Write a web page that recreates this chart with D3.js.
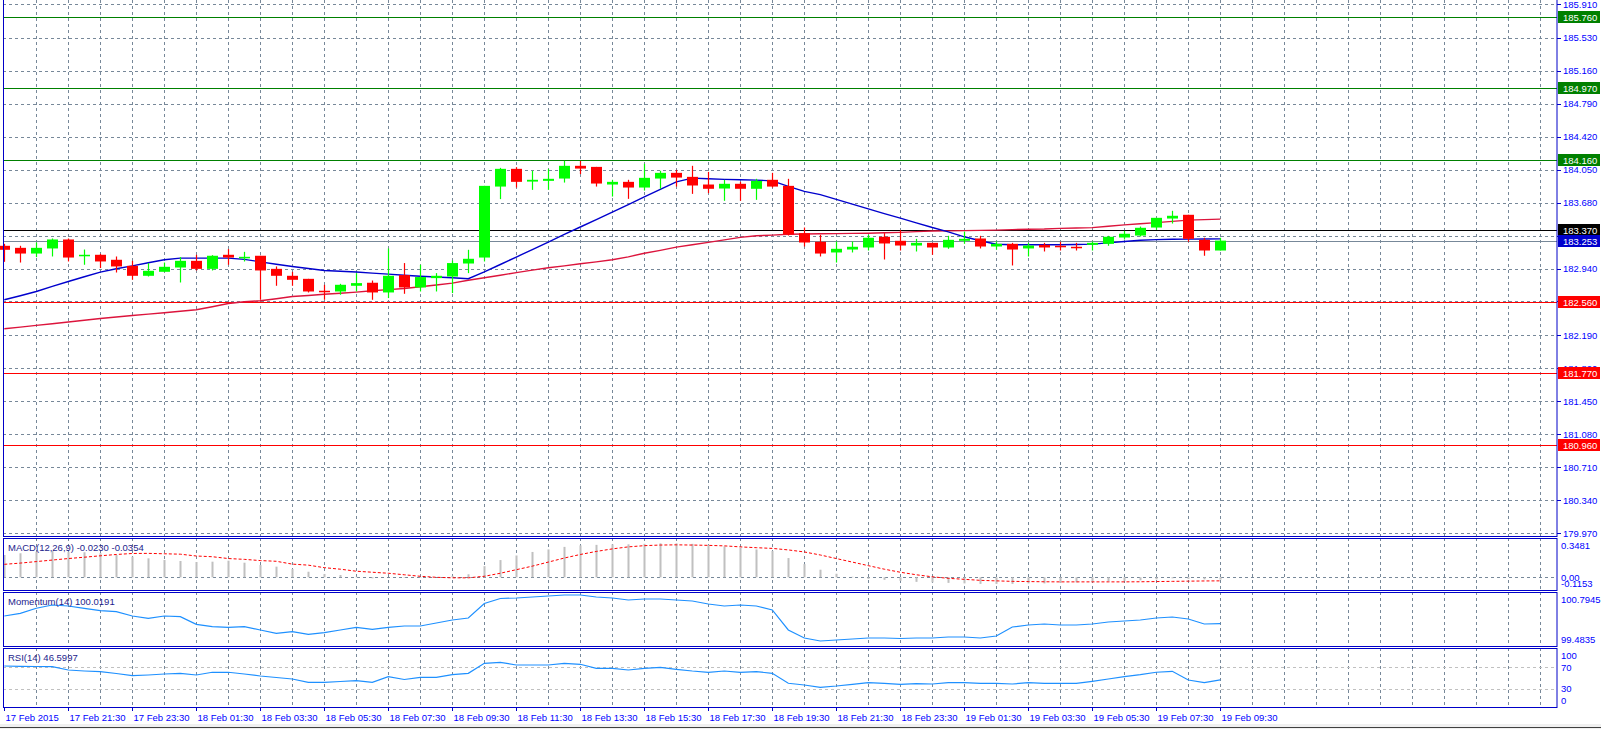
<!DOCTYPE html>
<html>
<head>
<meta charset="utf-8">
<script src="https://cdn.jsdelivr.net/npm/d3@7"></script>
<style>
  body { margin: 0; background: #fff; }
  text { font-family: "Liberation Sans", Arial, sans-serif; }
</style>
</head>
<body>
<svg id="chart"></svg>
<script>
// 30-minute bars, 17 Feb 19:30 -> 19 Feb 09:30
let opens = [183.195,183.172,183.108,183.165,183.266,183.079,183.094,183.038,182.970,182.858,
  182.903,182.951,183.026,182.936,183.094,183.057,183.083,182.936,182.858,182.824,
  182.690,182.682,182.746,182.780,182.671,182.866,182.727,182.832,182.850,182.996,
  183.063,183.860,184.059,183.916,183.924,183.950,184.093,184.081,183.883,183.913,
  183.849,183.950,184.014,183.969,183.883,183.838,183.891,183.835,183.936,183.868,
  183.337,183.240,183.120,183.153,183.176,183.296,183.251,183.198,183.228,183.176,
  183.251,183.277,183.187,183.217,183.165,183.206,183.195,183.184,183.206,183.217,
  183.288,183.310,183.400,183.501,183.543,183.262,183.142];
let highs = [183.217,183.195,183.232,183.277,183.277,183.153,183.105,183.075,183.026,183.001,
  183.007,183.068,183.094,183.090,183.158,183.127,183.083,182.963,182.903,182.824,
  182.757,182.768,182.888,182.805,183.165,183.001,182.982,182.888,183.030,183.150,
  183.868,184.070,184.078,184.037,184.059,184.149,184.149,184.081,183.936,183.936,
  184.115,184.037,184.048,184.093,184.025,183.936,183.913,183.947,184.014,183.947,
  183.400,183.318,183.243,183.243,183.318,183.337,183.371,183.273,183.228,183.307,
  183.355,183.307,183.243,183.228,183.228,183.228,183.240,183.228,183.243,183.307,
  183.363,183.411,183.509,183.588,183.543,183.285,183.285];
let lows = [183.015,183.007,183.068,183.075,183.019,182.982,182.945,182.895,182.813,182.850,
  182.903,182.783,182.918,182.918,182.982,183.019,182.589,182.746,182.746,182.671,
  182.589,182.645,182.682,182.589,182.608,182.656,182.682,182.682,182.664,182.888,
  183.019,183.719,183.849,183.823,183.823,183.905,184.000,183.860,183.748,183.722,
  183.815,183.835,183.860,183.778,183.786,183.700,183.700,183.711,183.849,183.310,
  183.187,183.075,183.007,183.120,183.142,183.041,183.142,183.131,183.094,183.161,
  183.217,183.165,183.150,182.974,183.075,183.131,183.142,183.142,183.142,183.195,
  183.266,183.299,183.374,183.445,183.240,183.083,183.142];
let closes = [183.150,183.108,183.172,183.266,183.063,183.094,183.019,182.963,182.858,182.914,
  182.959,183.026,182.936,183.083,183.063,183.071,182.918,182.858,182.813,182.682,
  182.679,182.757,182.776,182.671,182.858,182.727,182.844,182.858,183.001,183.049,
  183.868,184.059,183.913,183.936,183.947,184.093,184.062,183.894,183.913,183.849,
  183.958,184.014,183.961,183.872,183.835,183.891,183.835,183.924,183.860,183.322,
  183.232,183.108,183.161,183.184,183.285,183.221,183.198,183.228,183.176,183.262,
  183.273,183.187,183.217,183.153,183.198,183.176,183.187,183.176,183.228,183.296,
  183.330,183.397,183.509,183.532,183.273,183.142,183.253];

// moving averages on the price window
let maBlue = [182.589,182.634,182.682,182.740,182.794,182.847,182.900,182.937,182.970,183.004,
  183.038,183.057,183.057,183.057,183.057,183.043,183.015,182.987,182.963,182.940,
  182.918,182.909,182.900,182.888,182.877,182.864,182.853,182.844,182.836,182.825,
  182.901,182.985,183.069,183.153,183.237,183.322,183.406,183.490,183.574,183.658,
  183.743,183.828,183.912,183.955,183.947,183.941,183.936,183.932,183.924,183.863,
  183.806,183.769,183.717,183.663,183.610,183.557,183.506,183.453,183.400,183.352,
  183.296,183.251,183.212,183.206,183.206,183.206,183.206,183.209,183.214,183.228,
  183.243,183.257,183.264,183.268,183.270,183.271,183.273];
let maRed = [182.263,182.282,182.301,182.319,182.339,182.359,182.379,182.396,182.413,182.428,
  182.443,182.460,182.477,182.510,182.547,182.566,182.578,182.600,182.626,182.637,
  182.651,182.662,182.675,182.690,182.703,182.716,182.735,182.754,182.776,182.808,
  182.836,182.864,182.894,182.922,182.948,182.970,182.993,183.015,183.038,183.071,
  183.111,183.144,183.180,183.206,183.234,183.262,183.290,183.307,183.315,183.324,
  183.327,183.330,183.332,183.334,183.336,183.341,183.346,183.354,183.361,183.363,
  183.365,183.368,183.371,183.377,183.380,183.383,183.390,183.395,183.399,183.414,
  183.430,183.442,183.455,183.469,183.483,183.489,183.494];

// MACD(12,26,9): histogram + signal
let macdHist = [0.220,0.237,0.252,0.259,0.252,0.247,0.237,0.220,0.203,0.187,
  0.171,0.161,0.151,0.154,0.164,0.144,0.121,0.105,0.082,0.055,
  0.033,0.023,0.006,-0.010,0.000,-0.005,-0.005,0.000,0.015,0.030,
  0.110,0.170,0.215,0.250,0.275,0.300,0.315,0.320,0.325,0.325,
  0.330,0.335,0.335,0.330,0.320,0.305,0.290,0.275,0.260,0.190,
  0.130,0.075,0.035,0.005,-0.015,-0.025,-0.035,-0.045,-0.050,-0.055,
  -0.060,-0.065,-0.065,-0.065,-0.060,-0.060,-0.055,-0.050,-0.045,-0.040,
  -0.035,-0.030,-0.020,-0.010,-0.015,-0.020,-0.023];
let macdSignal = [0.128,0.140,0.155,0.170,0.185,0.198,0.212,0.225,0.235,0.236,
  0.232,0.228,0.210,0.203,0.185,0.177,0.165,0.158,0.130,0.120,
  0.095,0.080,0.060,0.050,0.040,0.025,0.010,0.000,-0.005,-0.005,
  0.010,0.040,0.075,0.110,0.150,0.190,0.225,0.255,0.280,0.300,
  0.312,0.318,0.320,0.318,0.315,0.310,0.300,0.292,0.285,0.270,
  0.250,0.220,0.185,0.150,0.115,0.080,0.050,0.025,0.005,-0.010,
  -0.020,-0.030,-0.035,-0.040,-0.042,-0.044,-0.045,-0.045,-0.045,-0.045,
  -0.045,-0.044,-0.042,-0.040,-0.038,-0.036,-0.035];
let momentum = [100.218,100.288,100.420,100.506,100.480,100.420,100.357,100.330,100.218,100.157,
  100.218,100.199,100.000,99.937,99.921,99.937,99.851,99.764,99.806,99.738,
  99.780,99.851,99.921,99.869,99.921,99.955,99.955,100.034,100.113,100.165,
  100.545,100.677,100.690,100.716,100.742,100.768,100.768,100.716,100.690,100.637,
  100.663,100.663,100.637,100.611,100.532,100.480,100.506,100.480,100.375,99.851,
  99.641,99.562,99.588,99.615,99.641,99.641,99.628,99.641,99.641,99.667,
  99.667,99.641,99.693,99.929,99.982,100.008,99.982,99.982,100.008,100.060,
  100.087,100.113,100.165,100.191,100.139,100.008,100.019];
let rsi = [72.2,71.7,71.3,71.1,64.8,63.0,61.7,58.3,54.3,55.6,
  57.4,58.7,55.6,60.6,60.6,57.4,53.7,50.9,48.1,42.0,
  42.0,43.5,45.0,42.0,52.4,47.2,51.3,51.3,56.1,58.7,
  77.2,79.1,74.1,74.1,74.1,77.2,75.4,68.0,68.0,64.8,
  68.0,69.8,66.1,63.0,60.6,63.0,60.6,61.7,58.7,40.2,
  37.0,32.8,35.2,38.3,41.3,40.2,38.3,39.4,38.9,41.3,
  41.3,40.2,40.2,38.9,41.3,40.2,40.2,40.2,43.9,48.1,
  52.4,56.1,60.6,62.4,46.3,41.3,46.6];

// horizontal levels
let resistance = [185.760, 184.970, 184.160];
let support = [182.560, 181.770, 180.960];
let pivot = 183.370;
let bid = 183.253;

// axis labels
let priceTicks = [185.910,185.530,185.160,184.790,184.420,184.050,183.680,183.310,182.940,
  182.570,182.190,181.820,181.450,181.080,180.710,180.340,179.970];
let timeLabels = ["17 Feb 2015","17 Feb 21:30","17 Feb 23:30","18 Feb 01:30","18 Feb 03:30",
  "18 Feb 05:30","18 Feb 07:30","18 Feb 09:30","18 Feb 11:30","18 Feb 13:30","18 Feb 15:30",
  "18 Feb 17:30","18 Feb 19:30","18 Feb 21:30","18 Feb 23:30","19 Feb 01:30","19 Feb 03:30",
  "19 Feb 05:30","19 Feb 07:30","19 Feb 09:30"];
let macdTicks = [0.3481, 0.00, -0.1153];
let momTicks = [100.7945, 99.4835];
let rsiTicks = [100, 70, 30, 0];
let titles = ["MACD(12,26,9) -0.0230 -0.0354", "Momentum(14) 100.0191", "RSI(14) 46.5997"];

const frameColor = '#0000c8';
const axisText = '#0000ff';
const gridColor = '#778899';

let chart = {
    width: 1601,
    height: 729,
    plotRight: 1557,
    // panel boxes (top, bottom)
    panels: {
        main: [-1, 536],
        macd: [538, 590],
        mom: [592, 646],
        rsi: [648, 707]
    },
    xScale: null,
    yPrice: null,
    yMacd: null,
    yMom: null,
    yRsi: null,

    makeScales: () => {
        chart.xScale = d3.scaleLinear().domain([0, 76]).range([4.3, 1220.3]);
        chart.yPrice = d3.scaleLinear().domain([179.97, 185.91]).range([533, 4]);
        chart.yMacd = d3.scaleLinear().domain([-0.1153, 0.3481]).range([589, 542]);
        chart.yMom = d3.scaleLinear().domain([99.4835, 100.7945]).range([644, 594]);
        chart.yRsi = d3.scaleLinear().domain([0, 100]).range([705, 651]);
    },

    // dashed vertical grid, every hour
    drawGrid: (svg) => {
        let xs = d3.range(2, 97, 2).map(i => Math.round(chart.xScale(i)) + 0.5);
        Object.values(chart.panels).forEach(p => {
            svg.append('g').selectAll('line')
                .data(xs)
                .join('line')
                .attr('x1', d => d).attr('x2', d => d)
                .attr('y1', Math.max(p[0], 0)).attr('y2', p[1])
                .attr('stroke', gridColor)
                .attr('stroke-dasharray', '3,3');
        });
        // price grid
        svg.append('g').selectAll('line')
            .data(priceTicks)
            .join('line')
            .attr('x1', 3).attr('x2', chart.plotRight)
            .attr('y1', d => Math.round(chart.yPrice(d)) + 0.5)
            .attr('y2', d => Math.round(chart.yPrice(d)) + 0.5)
            .attr('stroke', gridColor)
            .attr('stroke-dasharray', '3,3');
    },

    drawLevels: (svg) => {
        let g = svg.append('g');
        let lvl = (v, color) => {
            g.append('line')
                .attr('x1', 3).attr('x2', chart.plotRight)
                .attr('y1', Math.round(chart.yPrice(v)) + 0.5)
                .attr('y2', Math.round(chart.yPrice(v)) + 0.5)
                .attr('stroke', color);
        };
        resistance.forEach(v => lvl(v, '#008000'));
        support.forEach(v => lvl(v, '#ff0000'));
        lvl(pivot, '#000000');
        lvl(bid, '#778899');
    },

    drawMAs: (svg) => {
        let line = arr => d3.line()
            .x((d, i) => chart.xScale(i))
            .y(d => chart.yPrice(d))(arr);
        svg.append('path').attr('d', line(maRed))
            .attr('fill', 'none').attr('stroke', '#dc143c').attr('stroke-width', 1.4);
        svg.append('path').attr('d', line(maBlue))
            .attr('fill', 'none').attr('stroke', '#0000cd').attr('stroke-width', 1.4);
    },

    drawCandles: (svg) => {
        let data = opens.map((o, i) => ({i: i, o: o, h: highs[i], l: lows[i], c: closes[i]}));
        let color = d => d.c >= d.o ? '#00ff00' : '#ff0000';
        let g = svg.append('g');
        g.selectAll('line')
            .data(data)
            .join('line')
            .attr('x1', d => Math.round(chart.xScale(d.i)) + 0.5)
            .attr('x2', d => Math.round(chart.xScale(d.i)) + 0.5)
            .attr('y1', d => chart.yPrice(d.h))
            .attr('y2', d => chart.yPrice(d.l))
            .attr('stroke', color)
            .attr('stroke-width', 1.2);
        g.selectAll('rect')
            .data(data)
            .join('rect')
            .attr('x', d => Math.round(chart.xScale(d.i)) - 5)
            .attr('width', 11)
            .attr('y', d => chart.yPrice(Math.max(d.o, d.c)))
            .attr('height', d => Math.max(1.5, Math.abs(chart.yPrice(d.o) - chart.yPrice(d.c))))
            .attr('fill', color);
    },

    drawPriceAxis: (svg) => {
        let g = svg.append('g');
        let tagged = resistance.concat(support, [pivot, bid]);
        // a tick label fully hidden behind a price tag is not written
        let shown = priceTicks.filter(t => !tagged.some(v =>
            Math.abs(chart.yPrice(t) - chart.yPrice(v)) < 2.5 ||
            (Math.abs(chart.yPrice(t) - chart.yPrice(v)) < 8 && t < 183.5 && t > 183.2)));
        g.selectAll('line')
            .data(priceTicks)
            .join('line')
            .attr('x1', chart.plotRight).attr('x2', chart.plotRight + 4)
            .attr('y1', d => Math.round(chart.yPrice(d)) + 0.5)
            .attr('y2', d => Math.round(chart.yPrice(d)) + 0.5)
            .attr('stroke', frameColor);
        g.selectAll('text')
            .data(shown)
            .join('text')
            .attr('x', 1563)
            .attr('y', d => chart.yPrice(d) + 3.5)
            .attr('font-size', 9.5)
            .attr('fill', axisText)
            .text(d => d.toFixed(3));

        // coloured price tags
        let tag = (v, bg) => {
            let y = Math.round(chart.yPrice(v));
            g.append('rect').attr('x', 1558).attr('y', y - 6)
                .attr('width', 42).attr('height', 12).attr('fill', bg);
            g.append('text').attr('x', 1563).attr('y', y + 3.5)
                .attr('font-size', 9.5).attr('fill', '#fff')
                .text(v.toFixed(3));
        };
        resistance.forEach(v => tag(v, '#008000'));
        support.forEach(v => tag(v, '#ff0000'));
        tag(pivot, '#000000');
        tag(bid, '#0000cd');
    },

    drawMacd: (svg) => {
        let y0 = Math.round(chart.yMacd(0)) + 0.5;
        svg.append('line')
            .attr('x1', 3).attr('x2', chart.plotRight)
            .attr('y1', y0).attr('y2', y0)
            .attr('stroke', gridColor).attr('stroke-dasharray', '3,3');
        svg.append('g').selectAll('rect')
            .data(macdHist)
            .join('rect')
            .attr('x', (d, i) => Math.round(chart.xScale(i)) - 0.5)
            .attr('width', 2)
            .attr('y', d => Math.min(chart.yMacd(d), chart.yMacd(0)))
            .attr('height', d => Math.abs(chart.yMacd(d) - chart.yMacd(0)))
            .attr('fill', '#c0c0c0');
        svg.append('path')
            .attr('d', d3.line().x((d, i) => chart.xScale(i)).y(d => chart.yMacd(d))(macdSignal))
            .attr('fill', 'none').attr('stroke', '#ff0000')
            .attr('stroke-dasharray', '3,2');
    },

    drawMomentum: (svg) => {
        svg.append('path')
            .attr('d', d3.line().x((d, i) => chart.xScale(i)).y(d => chart.yMom(d))(momentum))
            .attr('fill', 'none').attr('stroke', '#1e90ff').attr('stroke-width', 1.2);
    },

    drawRsi: (svg) => {
        [70, 30].forEach(v => {
            let y = Math.round(chart.yRsi(v)) + 0.5;
            svg.append('line').attr('x1', 3).attr('x2', chart.plotRight)
                .attr('y1', y).attr('y2', y)
                .attr('stroke', '#c0c0c0').attr('stroke-dasharray', '3,3');
        });
        svg.append('path')
            .attr('d', d3.line().x((d, i) => chart.xScale(i)).y(d => chart.yRsi(d))(rsi))
            .attr('fill', 'none').attr('stroke', '#1e90ff').attr('stroke-width', 1.2);
    },

    // right-hand labels of the sub windows, kept inside their box
    drawSubLabels: (svg) => {
        let put = (vals, scale, panel, fmt) => {
            svg.append('g').selectAll('text')
                .data(vals)
                .join('text')
                .attr('x', 1561)
                .attr('y', d => Math.min(Math.max(scale(d), panel[0] + 7), panel[1] - 7) + 3.5)
                .attr('font-size', 9.5)
                .attr('fill', axisText)
                .text(fmt);
        };
        put(macdTicks, chart.yMacd, chart.panels.macd, d => d === 0 ? '0.00' : d.toFixed(4));
        put(momTicks, chart.yMom, chart.panels.mom, d => d.toFixed(4));
        put(rsiTicks, chart.yRsi, chart.panels.rsi, d => d);

        let tops = [chart.panels.macd[0], chart.panels.mom[0], chart.panels.rsi[0]];
        svg.append('g').selectAll('text')
            .data(titles)
            .join('text')
            .attr('x', 8)
            .attr('y', (d, i) => tops[i] + 12.5)
            .attr('font-size', 9.5)
            .attr('fill', '#1c1c8c')
            .text(d => d);
    },

    drawTimeAxis: (svg) => {
        let idx = timeLabels.map((d, k) => k * 4);
        let g = svg.append('g');
        g.selectAll('line')
            .data(idx)
            .join('line')
            .attr('x1', d => Math.round(chart.xScale(d)) + 0.5)
            .attr('x2', d => Math.round(chart.xScale(d)) + 0.5)
            .attr('y1', 707).attr('y2', 711)
            .attr('stroke', frameColor);
        g.selectAll('text')
            .data(idx)
            .join('text')
            .attr('x', d => Math.round(chart.xScale(d)) + 1.5)
            .attr('y', 720.5)
            .attr('font-size', 9.5)
            .attr('fill', axisText)
            .text((d, k) => timeLabels[k]);
    },

    drawFrames: (svg) => {
        Object.values(chart.panels).forEach(p => {
            svg.append('rect')
                .attr('x', 3.5).attr('y', p[0] + 0.5)
                .attr('width', chart.plotRight - 3.5).attr('height', p[1] - p[0])
                .attr('fill', 'none').attr('stroke', frameColor);
        });
        // tab strip at the bottom
        svg.append('rect').attr('x', 0).attr('y', 724).attr('width', chart.width).attr('height', 5)
            .attr('fill', '#f0f0f0');
        svg.append('line').attr('x1', 0).attr('x2', chart.width).attr('y1', 727.5).attr('y2', 727.5)
            .attr('stroke', '#404040');
    },

    drawMain: () => {
        let svg = d3.select('#chart')
            .attr('width', chart.width)
            .attr('height', chart.height);
        chart.makeScales();
        chart.drawGrid(svg);
        chart.drawLevels(svg);
        chart.drawMAs(svg);
        chart.drawCandles(svg);
        chart.drawMacd(svg);
        chart.drawMomentum(svg);
        chart.drawRsi(svg);
        chart.drawFrames(svg);
        chart.drawPriceAxis(svg);
        chart.drawSubLabels(svg);
        chart.drawTimeAxis(svg);
    }
};

chart.drawMain();
</script>
</body>
</html>
